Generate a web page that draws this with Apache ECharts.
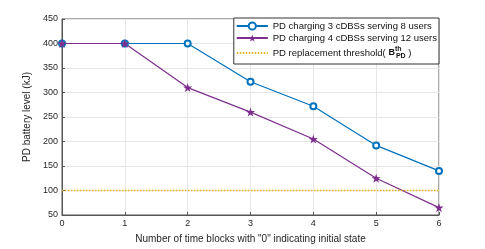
<!DOCTYPE html>
<html><head><meta charset="utf-8">
<script src="https://cdn.jsdelivr.net/npm/echarts@6/dist/echarts.min.js"></script>
<style>html,body{margin:0;padding:0;background:#fff}#c{width:485px;height:249px}</style>
</head><body><div id="c"></div>
<script>
const categories = ['0','1','2','3','4','5','6'];
const series3 = [400, 400, 400, 322, 272, 192, 140];
const series4 = [400, 400, 310, 260, 205, 125, 65];
const threshold = [100, 100, 100, 100, 100, 100, 100];
const yTicks = [50, 450, 50];
const names = ['PD charging 3 cDBSs serving 8 users','PD charging 4 cDBSs serving 12 users','PD replacement threshold'];

const star = 'path://M0,-10 L2.35,-3.24 L9.51,-3.09 L3.8,1.24 L5.88,8.09 L0,4 L-5.88,8.09 L-3.8,1.24 L-9.51,-3.09 L-2.35,-3.24 Z';
const font = 'Liberation Sans, Arial, Helvetica, sans-serif';
const chart = echarts.init(document.getElementById('c'), null, {renderer:'canvas'});
chart.setOption({
  animation:false,
  textStyle:{fontFamily:font},
  grid:{left:62,right:46,top:19,bottom:28,show:true,borderColor:'#555',borderWidth:1,backgroundColor:'#fff'},
  xAxis:{type:'value',min:0,max:6,interval:1,
    name:'Number of time blocks with "0" indicating initial state',nameLocation:'middle',nameGap:19,
    nameTextStyle:{fontSize:10,color:'#262626',fontFamily:font},
    axisLine:{lineStyle:{color:'#555'}},axisTick:{inside:true,length:3,lineStyle:{color:'#555'}},
    axisLabel:{fontSize:9,color:'#262626',margin:4,fontFamily:font},
    splitLine:{show:true,lineStyle:{color:'#e6e6e6'}}},
  yAxis:{type:'value',min:yTicks[0],max:yTicks[1],interval:yTicks[2],
    name:'PD battery level (kJ)',nameLocation:'middle',nameGap:22,
    nameTextStyle:{fontSize:10,color:'#262626',fontFamily:font},
    axisLine:{show:true,lineStyle:{color:'#555'}},axisTick:{show:true,inside:true,length:3,lineStyle:{color:'#555'}},
    axisLabel:{fontSize:9,color:'#262626',margin:4,fontFamily:font},
    splitLine:{show:true,lineStyle:{color:'#e6e6e6'}}},
  legend:{orient:'vertical',right:46,top:18,backgroundColor:'#fff',borderColor:'#333',borderWidth:1,
    padding:[3,2,3,2],itemGap:2,itemWidth:31,itemHeight:9,
    textStyle:{fontSize:9.5,color:'#111',fontFamily:font,
      rich:{
        n:{fontSize:9.5,color:'#111',lineHeight:16},
        b:{fontSize:9,fontWeight:'bold',color:'#111',verticalAlign:'middle',lineHeight:16},
        sup:{fontSize:7,fontWeight:'bold',color:'#111',verticalAlign:'top',width:1,lineHeight:16,padding:[1,0,0,0]},
        sub:{fontSize:7,fontWeight:'bold',color:'#111',verticalAlign:'bottom',lineHeight:16,padding:[0,0,1,0]}
      }},
    formatter:function(n){ if(n===names[2]) return '{n|PD replacement threshold( }{b|B}{sup|th}{sub|PD}{n| )}'; return n; },
    data:[names[0],names[1],{name:names[2],itemStyle:{opacity:0}}]},
  series:[
    {name:names[0],type:'line',data:categories.map((c,i)=>[+c,series3[i]]),color:'#0072BD',
     symbol:'emptyCircle',symbolSize:6,lineStyle:{width:1.2},itemStyle:{borderWidth:1}},
    {name:names[1],type:'line',data:categories.map((c,i)=>[+c,series4[i]]),color:'#7E2F8E',
     symbol:star,symbolSize:9,lineStyle:{width:1.2}},
    {name:names[2],type:'line',data:categories.map((c,i)=>[+c,threshold[i]]),color:'#EDB120',
     symbol:'none',lineStyle:{width:1.5,type:[1.5,1.5]}}
  ]
});
</script></body></html>
